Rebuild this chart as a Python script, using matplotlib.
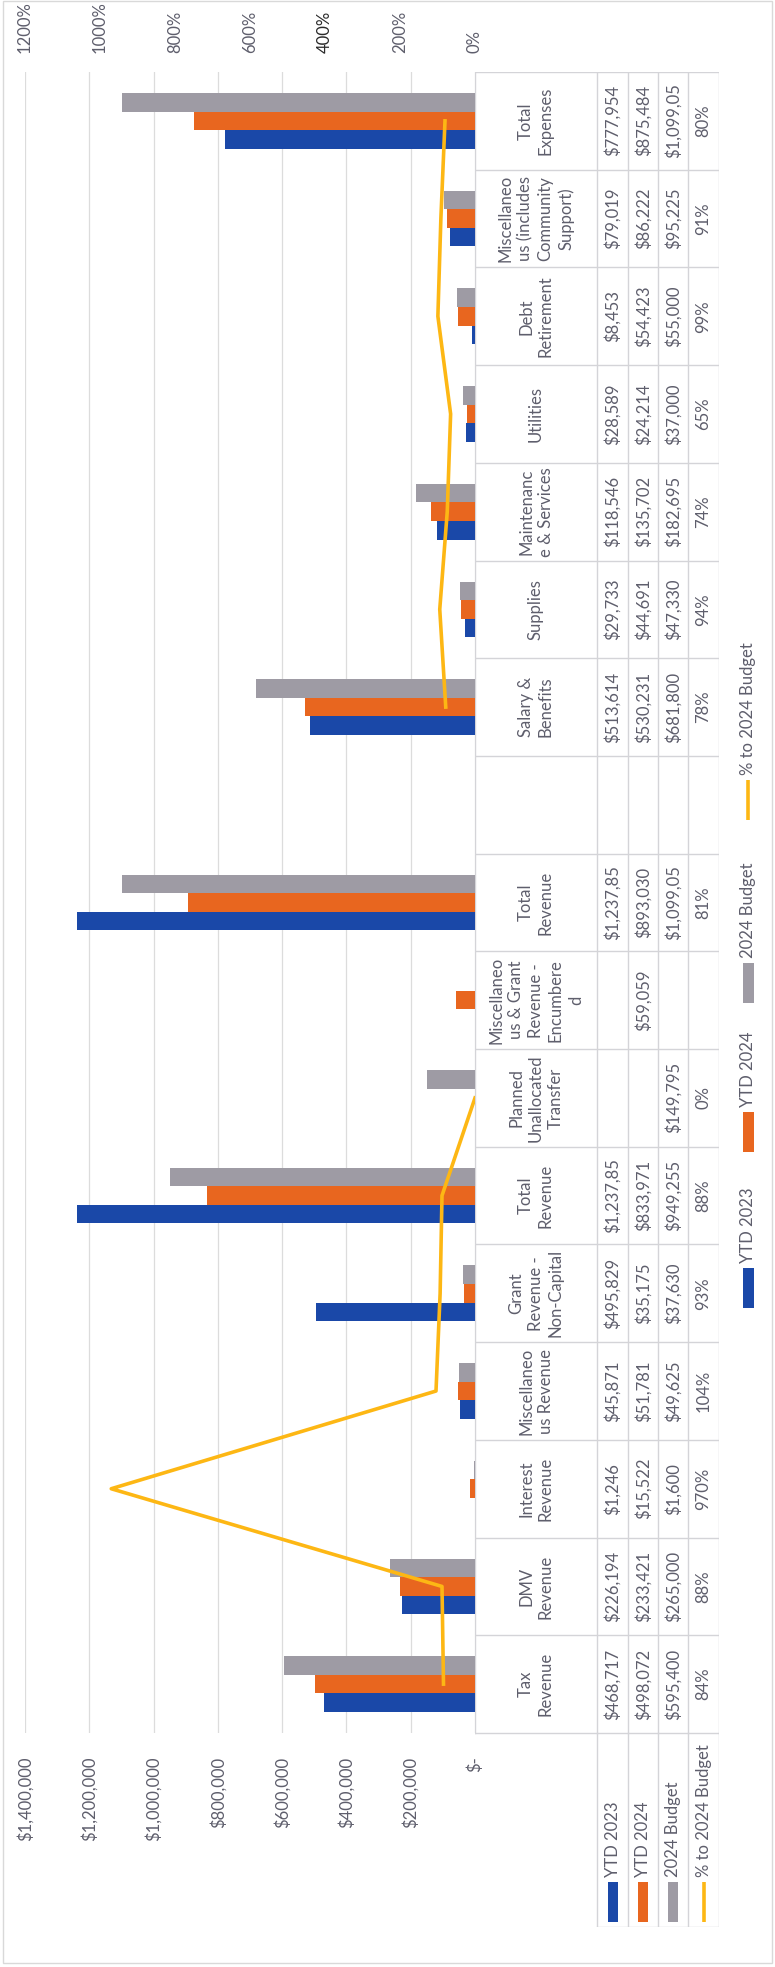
import numpy as np
import matplotlib
matplotlib.use("Agg")
import matplotlib.pyplot as plt
from matplotlib.ticker import FuncFormatter
from matplotlib.patches import Rectangle
from matplotlib.lines import Line2D

# ---- data -----------------------------------------------------------------
categories = [
    "Tax\nRevenue", "DMV\nRevenue", "Interest\nRevenue",
    "Miscellaneo\nus Revenue", "Grant\nRevenue -\nNon-Capital",
    "Total\nRevenue", "Planned\nUnallocated\nTransfer",
    "Miscellaneo\nus & Grant\nRevenue -\nEncumbere\nd", "Total\nRevenue", "",
    "Salary &\nBenefits", "Supplies", "Maintenanc\ne & Services", "Utilities",
    "Debt\nRetirement", "Miscellaneo\nus (includes\nCommunity\nSupport)",
    "Total\nExpenses",
]
ytd_2023 = [468717, 226194, 1246, 45871, 495829, 1237857, None, None,
            1237857, None, 513614, 29733, 118546, 28589, 8453, 79019, 777954]
ytd_2024 = [498072, 233421, 15522, 51781, 35175, 833971, None, 59059,
            893030, None, 530231, 44691, 135702, 24214, 54423, 86222, 875484]
budget_2024 = [595400, 265000, 1600, 49625, 37630, 949255, 149795, None,
               1099050, None, 681800, 47330, 182695, 37000, 55000, 95225, 1099050]
pct_to_budget = [0.84, 0.88, 9.70, 1.04, 0.93, 0.88, 0.00, None, 0.81, None,
                 0.78, 0.94, 0.74, 0.65, 0.99, 0.91, 0.80]
series_names = ["YTD 2023", "YTD 2024", "2024 Budget", "% to 2024 Budget"]
money_ticks = [0, 200000, 400000, 600000, 800000, 1000000, 1200000, 1400000]
pct_ticks = [0, 2, 4, 6, 8, 10, 12]

# ---- style ----------------------------------------------------------------
plt.rcParams["font.family"] = ["Lato", "DejaVu Sans"]
TXT = "#5e5e6c"
BLUE = "#1a48a8"
ORANGE = "#e8661f"
GRAY = "#9e9ba4"
GOLD = "#fdb714"
GRID = "#dcdcdc"
FS = 12

W, H, DPI = 775, 1967, 100
fig = plt.figure(figsize=(W / DPI, H / DPI), dpi=DPI)
fig.patch.set_facecolor("white")


def fx(px):
    return px / W


def fy(py):
    return 1 - py / H


# whole chart is laid out sideways: categories run bottom-to-top,
# values grow from right to left
PLOT_L, PLOT_R, PLOT_T, PLOT_B = 25, 475, 72, 1733
n = len(categories)
pos = np.arange(n)

ax = fig.add_axes([fx(PLOT_L), fy(PLOT_B), (PLOT_R - PLOT_L) / W,
                   (PLOT_B - PLOT_T) / H])
bh = 0.19
for vals, off, color in [(ytd_2023, -bh, BLUE), (ytd_2024, 0.0, ORANGE),
                         (budget_2024, bh, GRAY)]:
    idx = [i for i, v in enumerate(vals) if v is not None]
    ax.barh(pos[idx] + off, [vals[i] for i in idx], height=bh, color=color,
            zorder=3, linewidth=0)
ax.set_ylim(-0.5, n - 0.5)
ax.set_xlim(1400000, 0)
ax.set_xticks(money_ticks)
ax.xaxis.set_major_formatter(
    FuncFormatter(lambda v, _: "$-" if v == 0 else f"${v:,.0f}"))
ax.tick_params(axis="x", length=0, pad=17, labelrotation=90,
               labelsize=FS, labelcolor=TXT)
ax.set_yticks([])
ax.grid(axis="x", color=GRID, lw=0.9, zorder=0)
ax.set_axisbelow(True)
for s in ax.spines.values():
    s.set_visible(False)

# secondary percentage scale along the top
ax2 = ax.twiny()
ax2.set_xlim(12, 0)
ax2.set_xticks(pct_ticks)
ax2.set_xticklabels([f"{t * 100:.0f}%" for t in pct_ticks])
ax2.tick_params(axis="x", length=0, pad=14, labelrotation=90,
                labelsize=FS, labelcolor=TXT)
ax2.get_xticklabels()[2].set_color("#2a2a2a")
for s in ax2.spines.values():
    s.set_visible(False)
pct_vals = np.array([np.nan if p is None else p for p in pct_to_budget])
ax2.plot(pct_vals, pos, color=GOLD, lw=2.6, solid_joinstyle="round", zorder=5)

# ---- data table -----------------------------------------------------------
TAB_L, TAB_R, TAB_B = 475, 719, 1927
cat_h = (PLOT_B - PLOT_T) / n
ext = (TAB_B - PLOT_B) / cat_h
ax_t = fig.add_axes([fx(TAB_L), fy(TAB_B), (TAB_R - TAB_L) / W,
                     (TAB_B - PLOT_T) / H])
ax_t.set_xlim(0, TAB_R - TAB_L)
ax_t.set_ylim(-0.5 - ext, n - 0.5)
ax_t.axis("off")
col_edges = [0, 122, 153, 183, 213, 244]
row_mid = [(col_edges[k] + col_edges[k + 1]) / 2 for k in range(1, 5)]
LC = "#d4d4d8"


def ty(py):
    return -0.5 - (py - PLOT_B) / cat_h


for i in range(n + 1):
    ax_t.plot([0, col_edges[-1]], [i - 0.5, i - 0.5], color=LC, lw=1)
for k, xe in enumerate(col_edges):
    ax_t.plot([xe, xe], [-0.5, n - 0.5], color=LC, lw=1)
    if k >= 1:
        ax_t.plot([xe, xe], [-0.5 - ext, -0.5], color=LC, lw=1)
ax_t.plot([col_edges[1], col_edges[-1]], [-0.5 - ext, -0.5 - ext], color=LC, lw=1)


def money_cell(v):
    # cells clip long figures to the column width
    return "" if v is None else f"${v:,.0f}"[:9]


for i in range(n):
    ax_t.text(col_edges[1] / 2, i, categories[i], rotation=90, ha="center",
              va="center", multialignment="center", linespacing=1.3,
              fontsize=FS, color=TXT)
    cells = [money_cell(ytd_2023[i]), money_cell(ytd_2024[i]),
             money_cell(budget_2024[i]),
             "" if pct_to_budget[i] is None else f"{pct_to_budget[i] * 100:.0f}%"]
    for xm, s in zip(row_mid, cells):
        if s:
            ax_t.text(xm, i, s, rotation=90, ha="center", va="center",
                      fontsize=FS, color=TXT)

# series labels in the table margin
for xm, name, color in zip(row_mid, series_names, [BLUE, ORANGE, GRAY, GOLD]):
    if name == series_names[-1]:
        ax_t.plot([xm, xm], [ty(1922), ty(1882)], color=color, lw=2.6,
                  solid_capstyle="butt")
    else:
        ax_t.add_patch(Rectangle((xm - 5, ty(1922)), 10, ty(1882) - ty(1922),
                                 facecolor=color, edgecolor="none"))
    ax_t.text(xm, ty(1877), name, rotation=90, ha="center", va="bottom",
              fontsize=FS, color=TXT)

# ---- legend ---------------------------------------------------------------
LEG_X = 748
leg_bottoms = [1308, 1152, 1003, 820]
for name, color, kb in zip(series_names, [BLUE, ORANGE, GRAY, GOLD], leg_bottoms):
    if name == series_names[-1]:
        fig.add_artist(Line2D([fx(LEG_X), fx(LEG_X)], [fy(kb), fy(kb - 40)],
                              color=color, lw=2.6, solid_capstyle="butt"))
    else:
        fig.add_artist(Rectangle((fx(LEG_X - 5.5), fy(kb)), 11 / W, 40 / H,
                                 transform=fig.transFigure, facecolor=color,
                                 edgecolor="none"))
    fig.text(fx(LEG_X), fy(kb - 45), name, rotation=90, ha="center",
             va="bottom", fontsize=FS, color=TXT)

# chart frame
fig.add_artist(Rectangle((fx(3), fy(1963)), 769 / W, 1962 / H,
                         transform=fig.transFigure, facecolor="none",
                         edgecolor="#d9d9d9", lw=1))

fig.savefig("out.png", dpi=DPI, facecolor="white")
